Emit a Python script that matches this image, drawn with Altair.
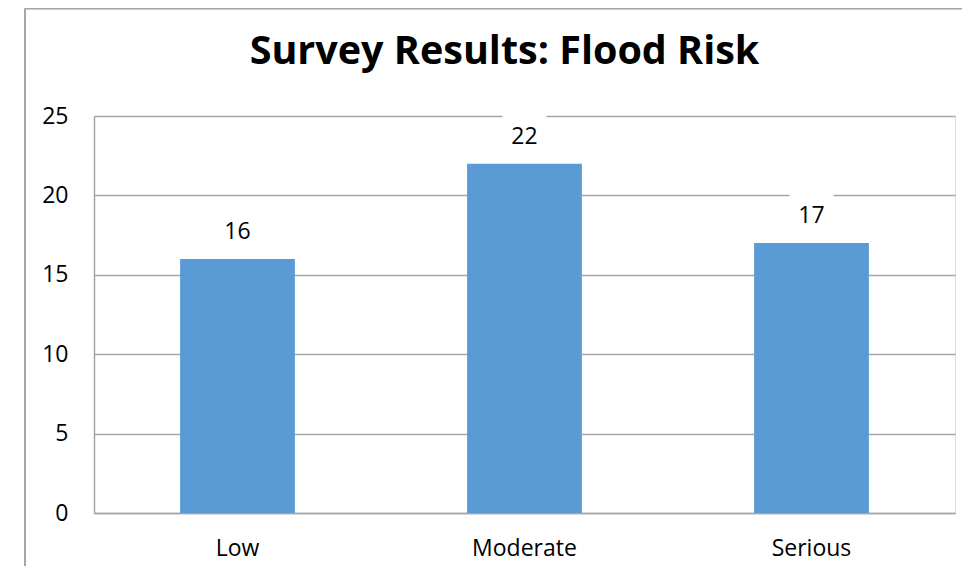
import altair as alt
import pandas as pd

# ---- data ----
categories = ["Low", "Moderate", "Serious"]
values = [16, 22, 17]
y_ticks = [0, 5, 10, 15, 20, 25]
title_text = "Survey Results: Flood Risk"

df = pd.DataFrame({"category": categories, "value": values})

W, H = 861, 397
UNIT = H / 25.0  # pixels per data unit
FONT = "Open Sans"
GRID = "#a6a6a6"

x_enc = alt.X(
    "category:N",
    sort=categories,
    title=None,
    scale=alt.Scale(paddingInner=0.6, paddingOuter=0.3),
    axis=alt.Axis(
        labelAngle=0,
        ticks=False,
        tickSize=0,
        labelPadding=24,
        labelFont=FONT,
        labelFontSize=23,
        labelColor="black",
        domainColor=GRID,
        domainWidth=1.5,
        grid=False,
    ),
)

y_scale = alt.Scale(domain=[0, 25], nice=False, zero=True)
y_enc = alt.Y(
    "value:Q",
    title=None,
    scale=y_scale,
    axis=alt.Axis(
        values=y_ticks,
        ticks=False,
        tickSize=0,
        labelPadding=26,
        labelFont=FONT,
        labelFontSize=23,
        labelColor="black",
        domainColor=GRID,
        domainWidth=1.5,
        gridColor=GRID,
        gridWidth=1.3,
    ),
)

base = alt.Chart(df)

bars = base.mark_bar(color="#5B9BD5").encode(x=x_enc, y=y_enc)

boxes = (
    base.transform_calculate(
        ylo=f"datum.value + {6 / UNIT}",
        yhi=f"datum.value + {50 / UNIT}",
    )
    .mark_bar(color="white", width=44)
    .encode(
        x=alt.X("category:N", sort=categories),
        y=alt.Y("ylo:Q", scale=y_scale),
        y2="yhi:Q",
    )
)

labels = base.mark_text(
    font=FONT, fontSize=23, color="black", baseline="middle", dy=-27
).encode(x=alt.X("category:N", sort=categories), y=alt.Y("value:Q", scale=y_scale), text="value:Q")

# outer chart frame (decoration)
frame_left = base.mark_rule(color=GRID, strokeWidth=1.5).encode(
    x=alt.value(-69), y=alt.value(-107.5), y2=alt.value(600)
)
frame_top = base.mark_rule(color=GRID, strokeWidth=1.5).encode(
    x=alt.value(-69), x2=alt.value(1000), y=alt.value(-107.5)
)

# chart title as a text element
title = alt.Chart(pd.DataFrame({"t": [title_text]})).mark_text(
    font=FONT, fontSize=39.5, fontWeight="bold", color="black",
    align="center", baseline="alphabetic",
).encode(x=alt.value(410.5), y=alt.value(-52), text="t:N")

chart = (
    alt.layer(frame_left, frame_top, bars, boxes, labels, title)
    .properties(
        width=W,
        height=H,
        autosize=alt.AutoSizeParams(type="none"),
        padding={"left": 86, "top": 108, "right": 7, "bottom": 53},
    )
    .configure_view(stroke=None)
    .configure(background="white")
)

chart.save("out.html", embed_options={"renderer": "svg", "actions": False})
